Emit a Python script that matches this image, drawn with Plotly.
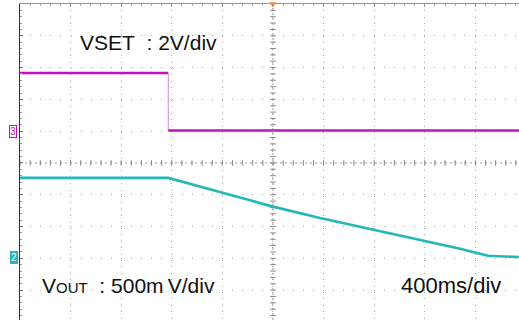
import numpy as np
import plotly.graph_objects as go

# ---- data (in screen divisions; centre of graticule = 0,0) ----
vset_step_time = -2.07          # div, where VSET steps down
vset_high = 2.83                # div
vset_low = 1.02                 # div
vset_ref = 1.0                  # channel 3 ground marker level

vout_t = [-5.0, -2.07, -1.05, -0.06, 0.93, 1.92, 2.91, 3.70, 4.25, 4.86]
vout_v = [-0.47, -0.47, -0.91, -1.35, -1.73, -2.08, -2.42, -2.70, -2.92, -2.96]
vout_ref = -2.96                # channel 2 ground marker level

x_range = [-5.0, 4.862]
y_range = [-4.94, 5.0]

purple = "#c112c1"
teal = "#22b8b8"

fig = go.Figure()

# VSET trace
fig.add_trace(go.Scatter(x=[x_range[0], vset_step_time], y=[vset_high, vset_high],
                         mode="lines", line=dict(color=purple, width=2.6), hoverinfo="skip"))
fig.add_trace(go.Scatter(x=[vset_step_time, vset_step_time], y=[vset_high, vset_low],
                         mode="lines", line=dict(color="#c98ac9", width=1), hoverinfo="skip"))
fig.add_trace(go.Scatter(x=[vset_step_time, x_range[1]], y=[vset_low, vset_low],
                         mode="lines", line=dict(color=purple, width=2.6), hoverinfo="skip"))
# VOUT trace
fig.add_trace(go.Scatter(x=vout_t, y=vout_v, mode="lines",
                         line=dict(color=teal, width=2.6), hoverinfo="skip"))

# centre crosshair tick marks
mx = np.arange(-5, 5.01, 0.2)
my = np.arange(-5, 5.01, 0.2)
fig.add_trace(go.Scatter(x=mx, y=[0] * len(mx), mode="markers",
                         marker=dict(symbol="line-ns-open", size=4, color="#888",
                                     line=dict(width=1, color="#888")), hoverinfo="skip"))
fig.add_trace(go.Scatter(x=[0] * len(my), y=my, mode="markers",
                         marker=dict(symbol="line-ew-open", size=4, color="#888",
                                     line=dict(width=1, color="#888")), hoverinfo="skip"))
# trigger marker
fig.add_trace(go.Scatter(x=[0], y=[y_range[1]], mode="markers", cliponaxis=False,
                         marker=dict(symbol="triangle-down", size=7, color="#f0a030"),
                         hoverinfo="skip"))

fig.add_shape(type="line", x0=0, x1=0, y0=y_range[0], y1=y_range[1],
              line=dict(color="#999", width=1, dash="2px,3px"), layer="below")
fig.add_shape(type="line", x0=x_range[0], x1=x_range[1], y0=0, y1=0,
              line=dict(color="#999", width=1, dash="2px,3px"), layer="below")

# channel markers
fig.add_annotation(x=x_range[0], y=vset_ref, xref="x", yref="y", text="3",
                   showarrow=False, xanchor="right", xshift=-3,
                   font=dict(family="Liberation Sans", size=10, color=purple),
                   bordercolor=purple, borderwidth=1, borderpad=0, bgcolor="white")
fig.add_annotation(x=x_range[0], y=vout_ref, xref="x", yref="y", text="2",
                   showarrow=False, xanchor="right", xshift=-2,
                   font=dict(family="Liberation Sans", size=10, color="white"),
                   bordercolor=teal, borderwidth=1, borderpad=0, bgcolor=teal)

txt_font = dict(family="Liberation Sans, Arial, sans-serif", size=21, color="#111")
fig.add_annotation(x=-3.85, y=3.80, xref="x", yref="y", text="VSET\u00a0 : 2V/div",
                   showarrow=False, xanchor="left", yanchor="middle", font=txt_font)
fig.add_annotation(x=-4.6, y=-3.87, xref="x", yref="y",
                   text="V<span style='font-size:15px'>OUT</span>\u00a0 : 500m\u2009V/div",
                   showarrow=False, xanchor="left", yanchor="middle", font=txt_font)
fig.add_annotation(x=2.50, y=-3.87, xref="x", yref="y", text="400ms/div",
                   showarrow=False, xanchor="left", yanchor="middle",
                   font=dict(family="Liberation Sans, Arial, sans-serif", size=22, color="#111"))

fig.update_layout(
    width=519, height=320,
    margin=dict(l=20, r=0, t=4, b=0, autoexpand=False),
    paper_bgcolor="white", plot_bgcolor="white",
    showlegend=False,
    xaxis=dict(range=x_range, side="top", showline=True, linecolor="#9a9a9a", linewidth=1,
               showgrid=True, gridcolor="#a8a8a8", griddash="1px,5.4px", gridwidth=1,
               dtick=1, tick0=0, ticks="inside", ticklen=3, tickcolor="#999",
               minor=dict(dtick=0.2, ticks="inside", ticklen=2, tickcolor="#aaa"),
               showticklabels=False, zeroline=False, fixedrange=True),
    yaxis=dict(range=y_range, showline=True, linecolor="#333", linewidth=1,
               showgrid=True, gridcolor="#a8a8a8", griddash="1px,9.1px", gridwidth=1,
               dtick=1, tick0=0, ticks="inside", ticklen=3, tickcolor="#777",
               minor=dict(dtick=0.2, ticks="inside", ticklen=2, tickcolor="#999"),
               showticklabels=False, zeroline=False, fixedrange=True),
)

fig.write_html("out.html", config={"displayModeBar": False},
               post_script="document.body.style.margin='0';document.body.style.overflow='hidden';")
